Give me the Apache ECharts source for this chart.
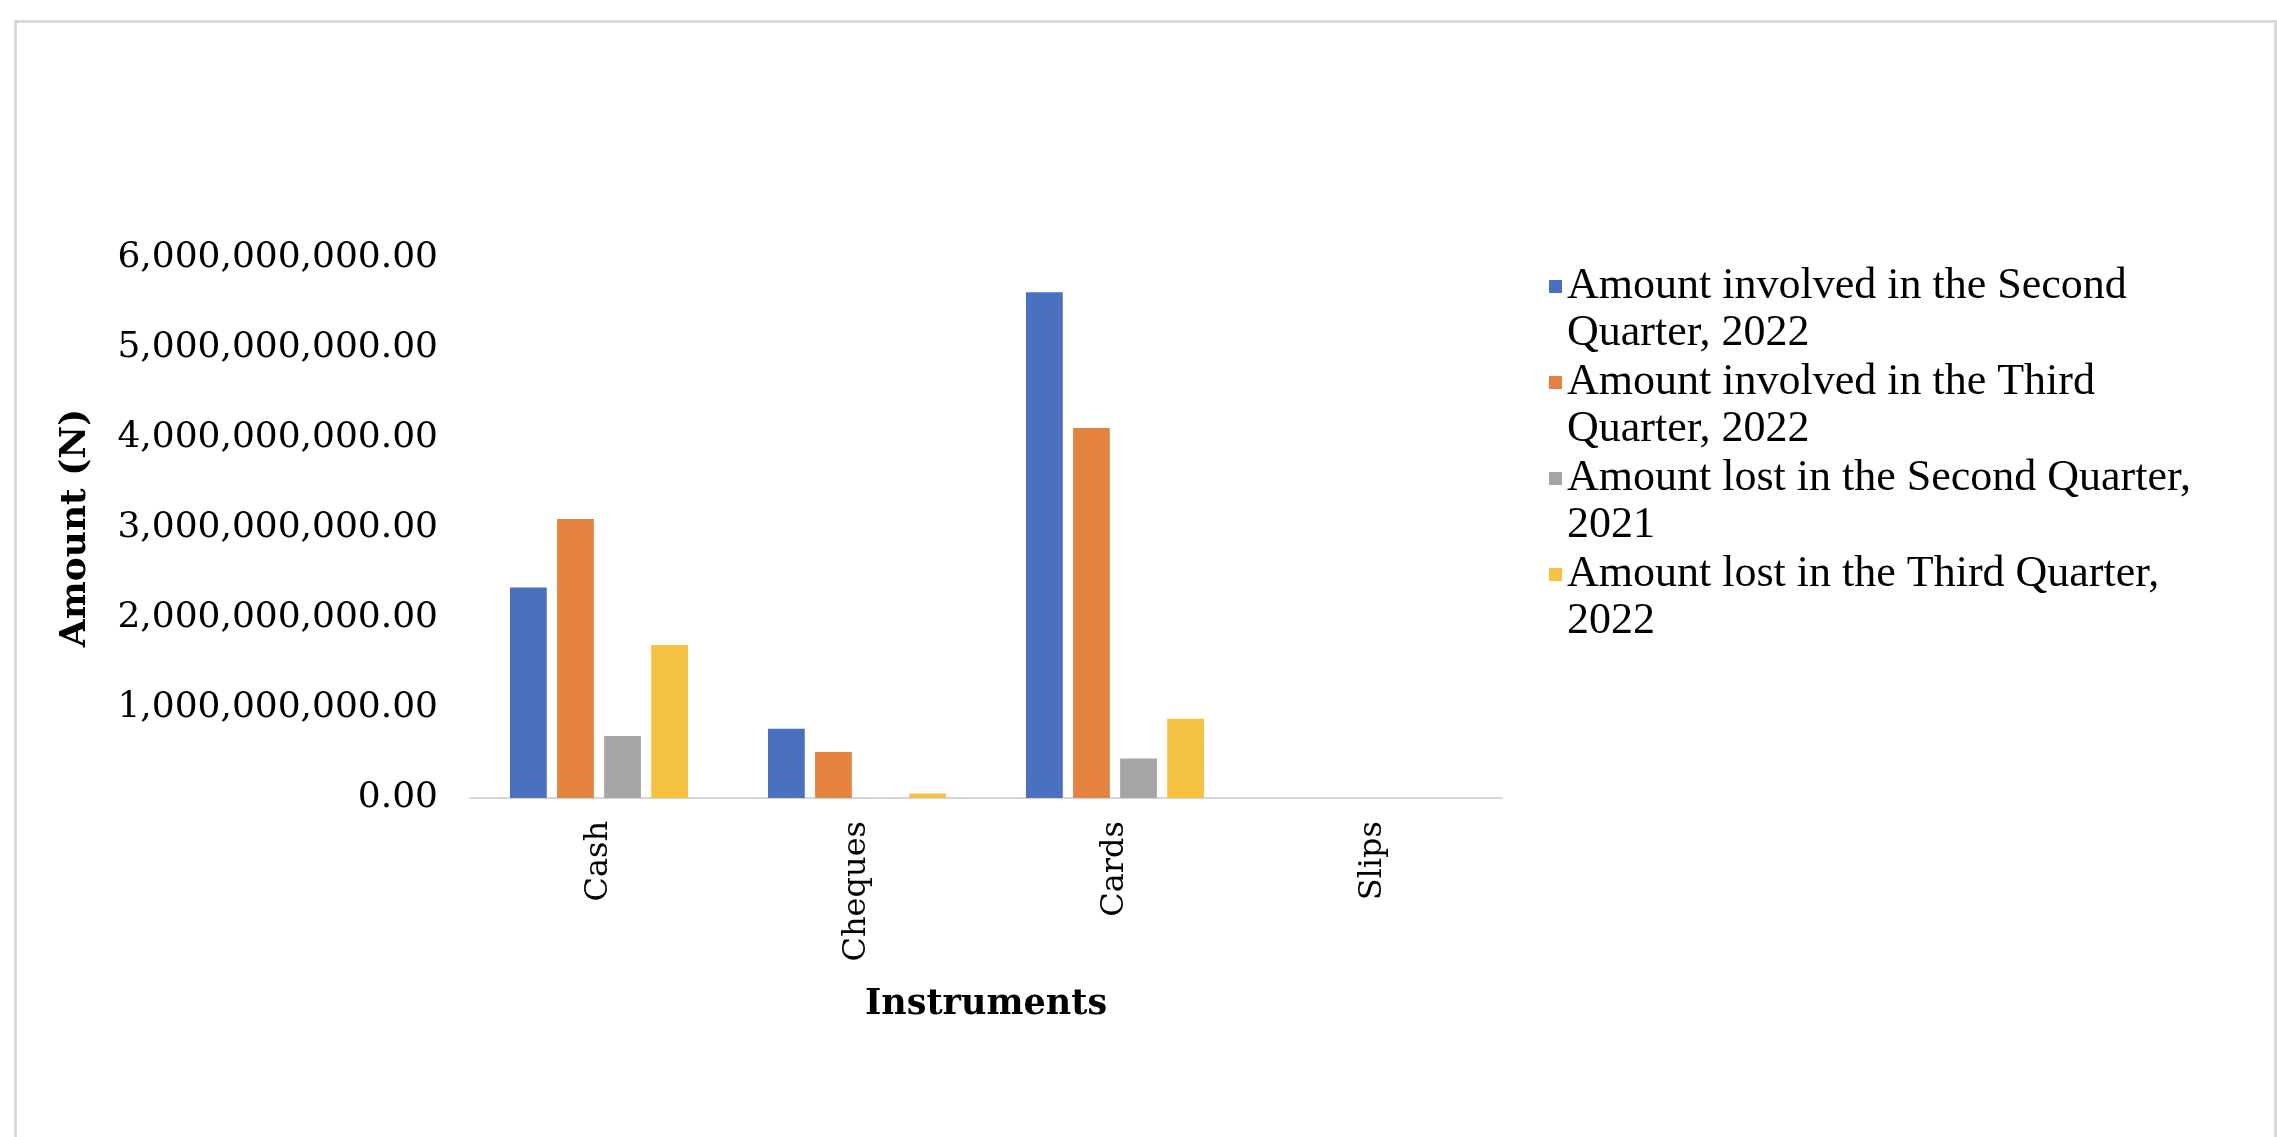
<!DOCTYPE html>
<html>
<head>
<meta charset="utf-8">
<title>Fraud amounts by instrument</title>
<script src="https://cdn.jsdelivr.net/npm/echarts@6/dist/echarts.min.js"></script>
<style>
  html, body { margin: 0; padding: 0; background: #ffffff; }
  #chart { width: 2277px; height: 1137px; }
</style>
</head>
<body>
<div id="chart"></div>
<script>
// Payment instruments on the category axis
const categories = ['Cash', 'Cheques', 'Cards', 'Slips'];

// Amounts (Naira) per instrument for each series
const involvedQ2_2022 = [2340000000, 770000000, 5620000000, 0];
const involvedQ3_2022 = [3100000000, 510000000, 4110000000, 0];
const lostQ2_2021     = [690000000, 0, 440000000, 0];
const lostQ3_2022     = [1700000000, 50000000, 880000000, 0];

// Series names and how each legend entry wraps onto two lines
const seriesNames = [
  'Amount involved in the Second Quarter, 2022',
  'Amount involved in the Third Quarter, 2022',
  'Amount lost in the Second Quarter, 2021',
  'Amount lost in the Third Quarter, 2022'
];
const legendFirstLines = [
  'Amount involved in the Second',
  'Amount involved in the Third',
  'Amount lost in the Second Quarter,',
  'Amount lost in the Third Quarter,'
];
const legendSecondLines = [
  'Quarter, 2022',
  'Quarter, 2022',
  '2021',
  '2022'
];

// Value axis ticks
const yMin = 0;
const yMax = 6000000000;
const yStep = 1000000000;

const seriesColors = ['#4A71BF', '#E4823F', '#A5A5A5', '#F5C242'];
const seriesValues = [involvedQ2_2022, involvedQ3_2022, lostQ2_2021, lostQ3_2022];

const serif = 'Georgia, "DejaVu Serif", serif';

function formatAmount(v) {
  const parts = Number(v).toFixed(2).split('.');
  parts[0] = parts[0].replace(/\B(?=(\d{3})+(?!\d))/g, ',');
  return parts.join('.');
}

// Legend layout: each entry is two text lines, swatch beside the first line
const legendLeft = 1549;
const legendLineHeight = 47;
const legendEntryStep = 96;
const legendTop = 263;
const legendText = {
  fontFamily: '"Liberation Serif", serif',
  fontSize: 44,
  lineHeight: legendLineHeight,
  color: '#000000'
};

const chart = echarts.init(document.getElementById('chart'), null, { renderer: 'canvas' });

chart.setOption({
  backgroundColor: '#ffffff',
  animation: false,
  color: seriesColors,
  graphic: [{
    type: 'rect',
    left: 13,
    top: 19,
    shape: { width: 2260, height: 1140 },
    style: { fill: 'none', stroke: '#D9D9D9', lineWidth: 3 },
    silent: true
  }],
  grid: {
    left: 470,
    right: 775,
    top: 258,
    bottom: 339,
    containLabel: false
  },
  legend: [{
    orient: 'vertical',
    left: legendLeft,
    top: legendTop,
    padding: 0,
    itemGap: legendEntryStep - legendLineHeight,
    itemWidth: 13,
    itemHeight: 13,
    icon: 'rect',
    selectedMode: false,
    data: seriesNames,
    formatter: function (name) {
      return legendFirstLines[seriesNames.indexOf(name)];
    },
    textStyle: legendText
  }, {
    orient: 'vertical',
    left: legendLeft,
    top: legendTop + legendLineHeight,
    padding: 0,
    itemGap: legendEntryStep - legendLineHeight,
    itemWidth: 13,
    itemHeight: 13,
    icon: 'none',
    selectedMode: false,
    data: seriesNames,
    formatter: function (name) {
      return legendSecondLines[seriesNames.indexOf(name)];
    },
    textStyle: legendText
  }],
  xAxis: {
    type: 'category',
    data: categories,
    name: 'Instruments',
    nameLocation: 'middle',
    nameGap: 189,
    nameTextStyle: {
      fontFamily: serif,
      fontWeight: 'bold',
      fontSize: 35,
      color: '#000000'
    },
    axisLine: { show: true, lineStyle: { color: '#D6D6D6', width: 2 } },
    axisTick: { show: false },
    axisLabel: {
      rotate: 90,
      margin: 23,
      fontFamily: serif,
      fontSize: 32,
      color: '#000000',
      interval: 0
    }
  },
  yAxis: {
    type: 'value',
    min: yMin,
    max: yMax,
    interval: yStep,
    name: 'Amount (N)',
    nameLocation: 'middle',
    nameRotate: 90,
    nameGap: 376,
    nameTextStyle: {
      fontFamily: serif,
      fontWeight: 'bold',
      fontSize: 36,
      color: '#000000'
    },
    axisLine: { show: false },
    axisTick: { show: false },
    splitLine: { show: false },
    axisLabel: {
      margin: 32,
      fontFamily: serif,
      fontSize: 36,
      color: '#000000',
      formatter: formatAmount
    }
  },
  series: seriesValues.map(function (vals, i) {
    return {
      name: seriesNames[i],
      type: 'bar',
      data: vals,
      barGap: '28%',
      barCategoryGap: '31%',
      itemStyle: { color: seriesColors[i] }
    };
  })
});
</script>
</body>
</html>
